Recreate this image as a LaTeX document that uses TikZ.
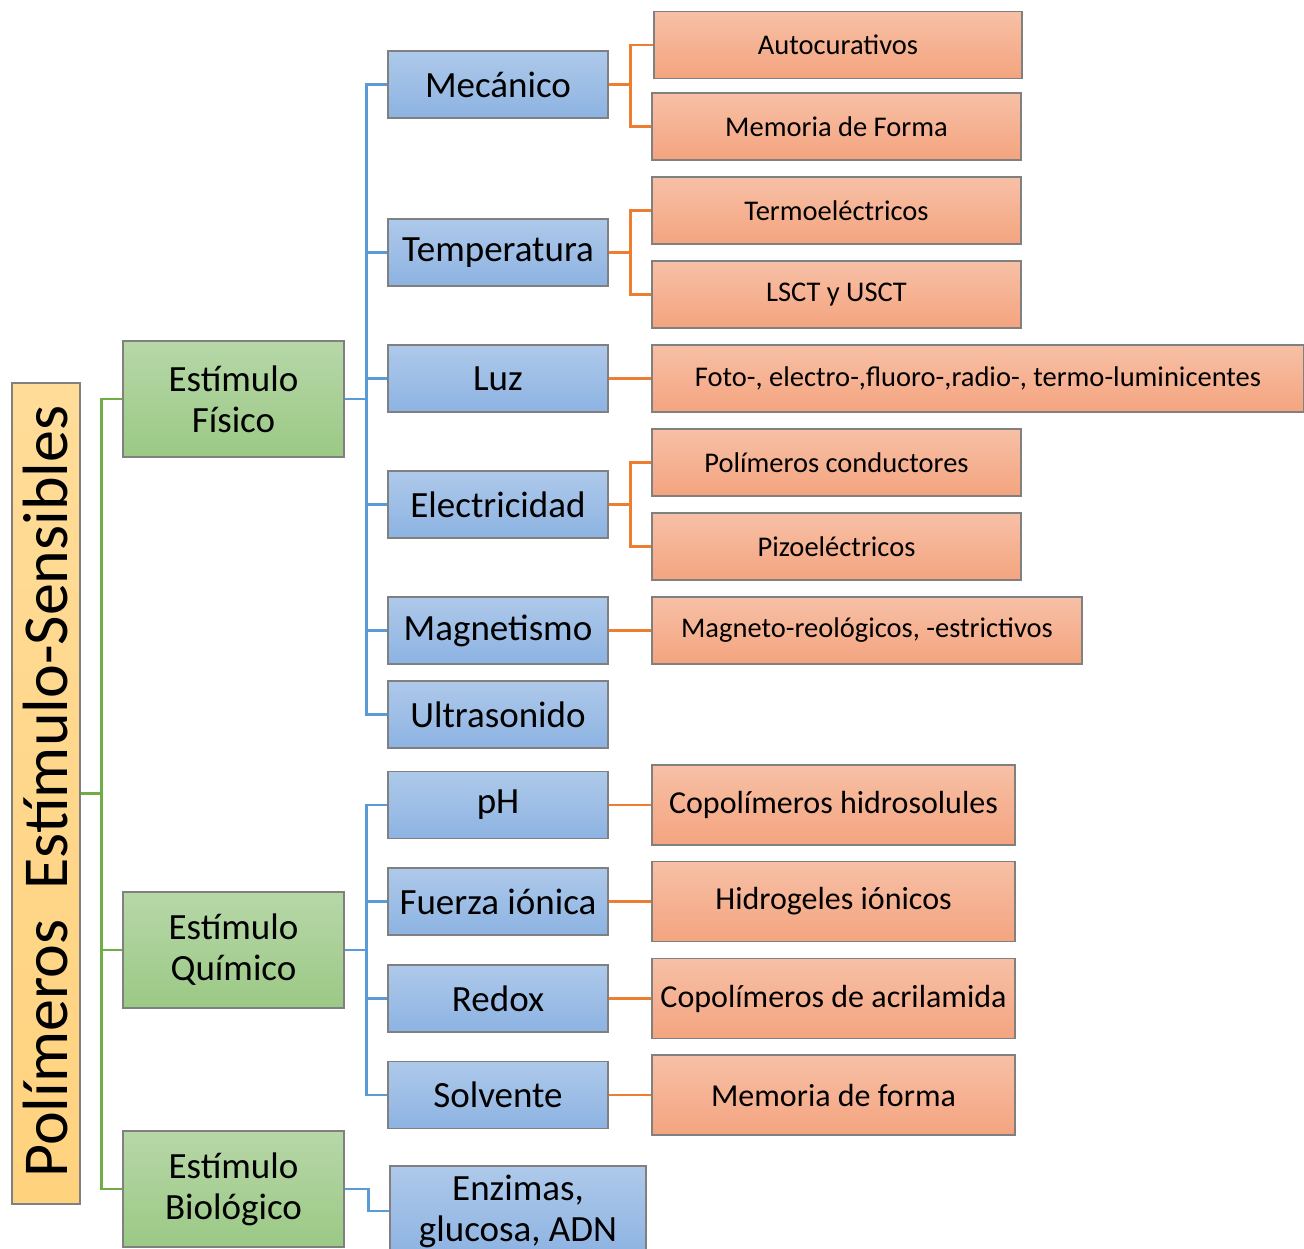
\documentclass[tikz,border=0pt]{standalone}
\usepackage{fontspec}
\setmainfont{Carlito}
\definecolor{gT}{HTML}{B7D7A8}
\definecolor{gB}{HTML}{9BC985}
\definecolor{bT}{HTML}{AEC9EA}
\definecolor{bB}{HTML}{8DB3E2}
\definecolor{oT}{HTML}{F7C0A6}
\definecolor{oB}{HTML}{F4A47F}
\definecolor{yT}{HTML}{FFDC98}
\definecolor{yB}{HTML}{FFD27E}
\definecolor{bord}{HTML}{808080}
\definecolor{gline}{HTML}{70AD47}
\definecolor{bline}{HTML}{5B9BD5}
\definecolor{oline}{HTML}{ED7D31}
\begin{document}
\begin{tikzpicture}[x=1pt,y=-1pt,
  box/.style={rectangle,draw=bord,line width=1.2pt,inner sep=0pt,align=center,text=black},
  ybox/.style={box,top color=yT,bottom color=yB,minimum width=68pt,minimum height=821pt},
  gbox/.style={box,top color=gT,bottom color=gB,minimum width=221pt,minimum height=116pt,font=\fontsize{37}{41}\selectfont},
  bbox/.style={box,top color=bT,bottom color=bB,minimum width=220pt,minimum height=67pt,font=\fontsize{37}{41}\selectfont},
  obox/.style={box,top color=oT,bottom color=oB,minimum height=67pt,font=\fontsize{28.5}{32}\selectfont},
  obig/.style={box,top color=oT,bottom color=oB,minimum height=80pt,minimum width=363pt,font=\fontsize{32}{36}\selectfont},
  gl/.style={gline,line width=2.6pt},
  bl/.style={bline,line width=2.6pt},
  ol/.style={oline,line width=2.6pt}]
\clip (0,0) rectangle (1304,1249);
\fill[white] (0,0) rectangle (1304,1249);
% root
\node[ybox] (root) at (46,793.5) {};
\node[rotate=90,font=\fontsize{64}{70}\selectfont] (title) at (46,791.5) {Polímeros\hspace{0.25em} Estímulo-Sensibles};
% green
\node[gbox] (fis) at (233.5,399) {Estímulo\\Físico};
\node[gbox] (qui) at (233.5,950) {Estímulo\\Químico};
\node[gbox] (bio) at (233.5,1189) {Estímulo\\Biológico};
% blue
\node[bbox] (mec) at (498,84.5) {Mecánico};
\node[bbox] (tem) at (498,252.5) {Temperatura};
\node[bbox] (luz) at (498,378.5) {Luz};
\node[bbox] (ele) at (498,504.5) {Electricidad};
\node[bbox] (mag) at (498,630.5) {Magnetismo};
\node[bbox] (ult) at (498,714.5) {Ultrasonido};
\node[bbox] (ph) at (498,805) {pH};
\node[bbox] (fue) at (498,901.5) {Fuerza iónica};
\node[bbox] (red) at (498,998.5) {Redox};
\node[bbox] (sol) at (498,1095) {Solvente};
\node[bbox,minimum width=256pt,minimum height=90pt] (enz) at (518,1211) {Enzimas,\\glucosa, ADN};
% orange
\node[obox,minimum width=368pt] (auto) at (838,45) {Autocurativos};
\node[obox,minimum width=369pt] (memF) at (836.5,126.5) {Memoria de Forma};
\node[obox,minimum width=369pt] (ter) at (836.5,210.5) {Termoeléctricos};
\node[obox,minimum width=369pt] (lsct) at (836.5,294.5) {LSCT y USCT};
\node[obox,minimum width=652pt] (foto) at (978,378.5) {Foto-, electro-,fluoro-,radio-, termo-luminicentes};
\node[obox,minimum width=369pt] (pcon) at (836.5,462.5) {Polímeros conductores};
\node[obox,minimum width=369pt] (piz) at (836.5,546.5) {Pizoeléctricos};
\node[obox,minimum width=430pt] (mrs) at (867,630.5) {Magneto-reológicos, -estrictivos};
\node[obig] (cop) at (833.5,805) {Copolímeros hidrosolules};
\node[obig] (hid) at (833.5,901.5) {Hidrogeles iónicos};
\node[obig] (acr) at (833.5,998.5) {Copolímeros de acrilamida};
\node[obig] (memf) at (833.5,1095) {Memoria de forma};
% green connectors
\draw[gl] (root.east) -- ++(21,0) |- (fis.west);
\draw[gl] (root.east) -- ++(21,0) |- (qui.west);
\draw[gl] (root.east) -- ++(21,0) |- (bio.west);
% blue connectors
\foreach \n in {mec,tem,luz,ele,mag,ult}{\draw[bl] (fis.east) -- ++(22,0) |- (\n.west);}
\foreach \n in {ph,fue,red,sol}{\draw[bl] (qui.east) -- ++(22,0) |- (\n.west);}
\draw[bl] (bio.east) -- ++(24,0) |- (enz.west);
% orange connectors
\draw[ol] (mec.east) -- ++(22,0) |- (auto.west);
\draw[ol] (mec.east) -- ++(22,0) |- (memF.west);
\draw[ol] (tem.east) -- ++(22,0) |- (ter.west);
\draw[ol] (tem.east) -- ++(22,0) |- (lsct.west);
\draw[ol] (luz.east) -- (foto.west);
\draw[ol] (ele.east) -- ++(22,0) |- (pcon.west);
\draw[ol] (ele.east) -- ++(22,0) |- (piz.west);
\draw[ol] (mag.east) -- (mrs.west);
\draw[ol] (ph.east) -- (cop.west);
\draw[ol] (fue.east) -- (hid.west);
\draw[ol] (red.east) -- (acr.west);
\draw[ol] (sol.east) -- (memf.west);
\end{tikzpicture}
\end{document}
